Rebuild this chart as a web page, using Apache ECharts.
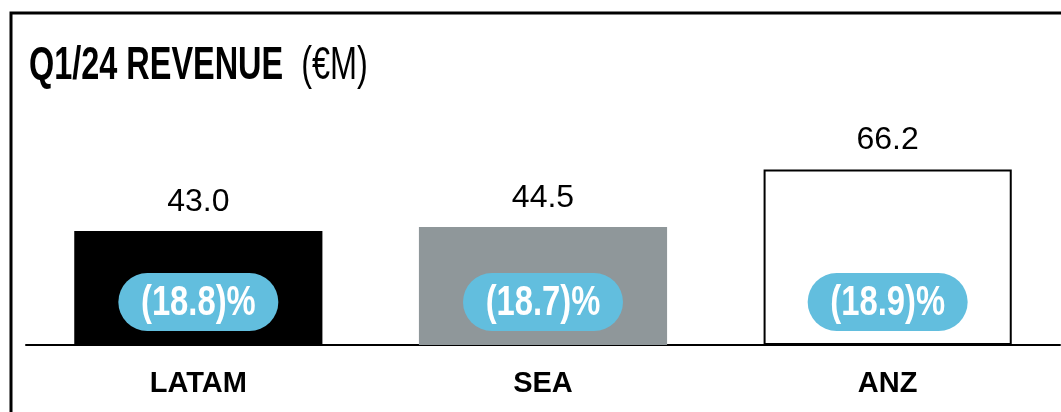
<!DOCTYPE html>
<html>
<head>
<meta charset="utf-8">
<script src="https://cdn.jsdelivr.net/npm/echarts@6/dist/echarts.min.js"></script>
<style>
  html, body { margin: 0; padding: 0; background: #fff; }
  #chart { width: 1061px; height: 412px; }
</style>
</head>
<body>
<div id="chart"></div>
<script>
// 数据
const regions = ['LATAM', 'SEA', 'ANZ']
const revenue = [43.0, 44.5, 66.2]
const yoyChange = ['(18.8)%', '(18.7)%', '(18.9)%']
const barColors = ['#000000', '#8f979a', '#ffffff']

const chart = echarts.init(document.getElementById('chart'))

// 胶囊标签：用自定义系列画，文字横向压缩模拟窄体字
const renderPill = (params, api) => {
  const base = api.coord([api.value(0), 0])
  return {
    type: 'group',
    x: base[0],
    y: base[1] - 14,
    silent: true,
    children: [
      {
        type: 'rect',
        shape: { x: -80, y: -58, width: 160, height: 58, r: 29 },
        style: { fill: '#62bede' }
      },
      {
        type: 'text',
        x: 0,
        y: -28,
        scaleX: 0.78,
        style: {
          text: yoyChange[params.dataIndex],
          align: 'center',
          verticalAlign: 'middle',
          fill: '#fff',
          fontFamily: 'Liberation Sans, Arial, sans-serif',
          fontWeight: 'bold',
          fontSize: 42
        }
      }
    ]
  }
}

const option = {
  animation: false,
  grid: { left: 26, right: 1, top: 80, bottom: 67 },
  xAxis: {
    type: 'category',
    data: regions,
    axisLine: { lineStyle: { color: '#000', width: 2 } },
    axisTick: { show: false },
    axisLabel: {
      color: '#000',
      fontFamily: 'Liberation Sans, Arial, sans-serif',
      fontWeight: 'bold',
      fontSize: 29,
      margin: 24
    }
  },
  yAxis: {
    type: 'value',
    min: 0,
    max: 100,
    show: false,
    splitLine: { show: false }
  },
  graphic: [
    {
      type: 'polyline',
      shape: { points: [[11, 412], [11, 13], [1061, 13]] },
      style: { stroke: '#000', lineWidth: 3, fill: null }
    },
    {
      type: 'text',
      x: 29,
      y: 43,
      scaleX: 0.705,
      style: {
        text: '{a|Q1/24 REVENUE}{b|  (€M)}',
        rich: {
          a: { fontFamily: 'Liberation Sans', fontWeight: 'bold', fontSize: 46, fill: '#000' },
          b: { fontFamily: 'Liberation Sans', fontWeight: 'normal', fontSize: 46, fill: '#000' }
        }
      }
    }
  ],
  series: [
    {
      name: 'revenue',
      type: 'bar',
      barWidth: '72%',
      data: revenue.map((v, i) => ({
        value: v,
        itemStyle: {
          color: barColors[i],
          borderColor: '#000',
          borderWidth: i === 2 ? 2 : 0
        }
      })),
      label: {
        show: true,
        position: 'top',
        distance: 13,
        color: '#000',
        fontFamily: 'Liberation Sans, Arial, sans-serif',
        fontSize: 32,
        formatter: p => p.value.toFixed(1)
      }
    },
    {
      name: 'change',
      type: 'custom',
      data: revenue.map((v, i) => [i, v]),
      encode: { x: 0, y: 1 },
      renderItem: renderPill,
      z: 5
    }
  ]
}

chart.setOption(option)
</script>
</body>
</html>
